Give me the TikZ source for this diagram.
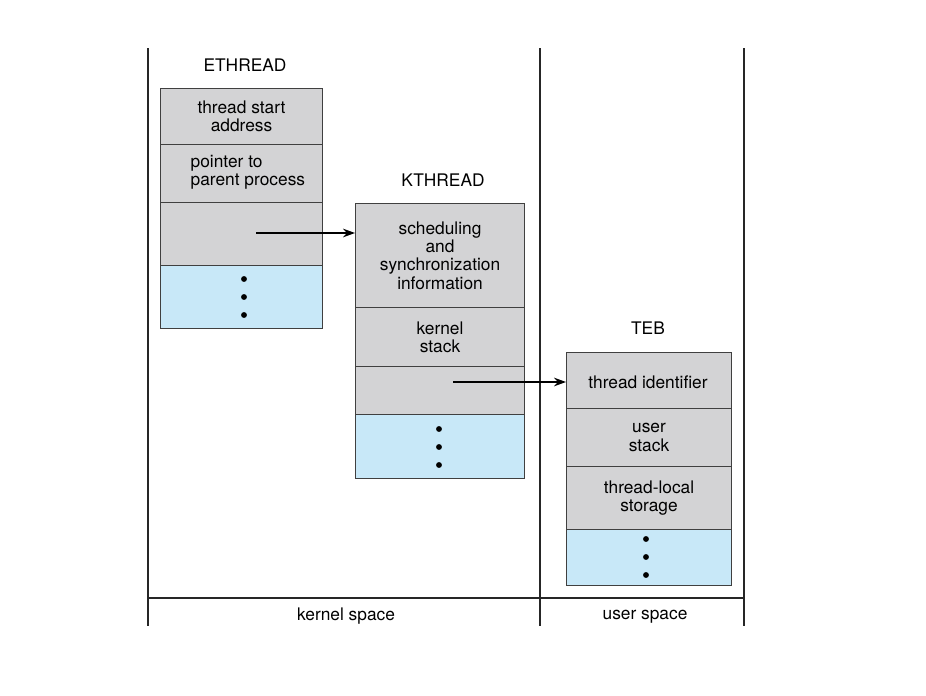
\documentclass[tikz,border=0pt]{standalone}
\usepackage{fontspec}
\setmainfont{TeX Gyre Heros}
\usetikzlibrary{arrows.meta}
\definecolor{cellgray}{RGB}{211,211,213}
\definecolor{cellblue}{RGB}{200,232,248}
\begin{document}
\begin{tikzpicture}[x=0.75pt,y=-0.75pt,
  cellg/.style={draw=black!75,line width=0.8pt,fill=cellgray,minimum width=#1,inner sep=0pt,anchor=north west},
  cellb/.style={draw=black!75,line width=0.8pt,fill=cellblue,minimum width=#1,inner sep=0pt,anchor=north west},
  lbl/.style={font=\fontsize{13}{13.8}\selectfont,align=center},
  dot/.style={circle,fill=black,inner sep=0pt,minimum size=4.4pt},
  sep/.style={line width=0.8pt,black!85},
  ptr/.style={-{Stealth[length=9pt,width=6.5pt]},line width=0.9pt}]
\useasboundingbox (0,0) rectangle (926,696);
% frame
\coordinate (v1t) at (148,48); \coordinate (v1b) at (148,626);
\coordinate (v2t) at (540,48); \coordinate (v2b) at (540,626);
\coordinate (v3t) at (744,48); \coordinate (v3b) at (744,626);
\coordinate (hl) at (148,598); \coordinate (hr) at (744,598);
\draw[sep] (v1t) -- (v1b);
\draw[sep] (v2t) -- (v2b);
\draw[sep] (v3t) -- (v3b);
\draw[sep] (hl) -- (hr);
\node[lbl] (ks) at (346,616) {kernel space};
\node[lbl] (us) at (645,617) {user space};
% ETHREAD
\node[lbl] (eth) at (245,65) {ETHREAD};
\node[cellg=162*0.75pt,minimum height=56*0.75pt] (e1) at (160,88) {};
\node[lbl] at (e1.center) {thread start\\address};
\node[cellg=162*0.75pt,minimum height=58*0.75pt] (e2) at (160,144) {};
\node[lbl,align=left,anchor=west] at (186,172) {pointer to\\parent process};
\node[cellg=162*0.75pt,minimum height=63*0.75pt] (e3) at (160,202) {};
\node[cellb=162*0.75pt,minimum height=63*0.75pt] (e4) at (160,265) {};
\node[dot] (ed1) at (244,279) {};
\node[dot] (ed2) at (244,297) {};
\node[dot] (ed3) at (244,315) {};
% KTHREAD
\node[lbl] (kth) at (443,180) {KTHREAD};
\node[cellg=169*0.75pt,minimum height=104*0.75pt] (k1) at (355,203) {};
\node[lbl] at (k1.center) {scheduling\\and\\synchronization\\information};
\node[cellg=169*0.75pt,minimum height=59*0.75pt] (k2) at (355,307) {};
\node[lbl] at (k2.center) {kernel\\stack};
\node[cellg=169*0.75pt,minimum height=48*0.75pt] (k3) at (355,366) {};
\node[cellb=169*0.75pt,minimum height=64*0.75pt] (k4) at (355,414) {};
\node[dot] (kd1) at (439,429) {};
\node[dot] (kd2) at (439,447) {};
\node[dot] (kd3) at (439,465) {};
% TEB
\node[lbl] (teb) at (648,328) {TEB};
\node[cellg=165*0.75pt,minimum height=56*0.75pt] (t1) at (566,352) {};
\node[lbl] at (648,382) {thread identifier};
\node[cellg=165*0.75pt,minimum height=58*0.75pt] (t2) at (566,408) {};
\node[lbl] at (t2.center) {user\\stack};
\node[cellg=165*0.75pt,minimum height=63*0.75pt] (t3) at (566,466) {};
\node[lbl] at (t3.center) {thread-local\\storage};
\node[cellb=165*0.75pt,minimum height=56*0.75pt] (t4) at (566,529) {};
\node[dot] (td1) at (646,539) {};
\node[dot] (td2) at (646,557) {};
\node[dot] (td3) at (646,575) {};
% pointers
\coordinate (p1) at (256,233);
\coordinate (p2) at (453,382);
\draw[ptr] (p1) -- (k1.west |- p1);
\draw[ptr] (p2) -- (t1.west |- p2);
\end{tikzpicture}
\end{document}
